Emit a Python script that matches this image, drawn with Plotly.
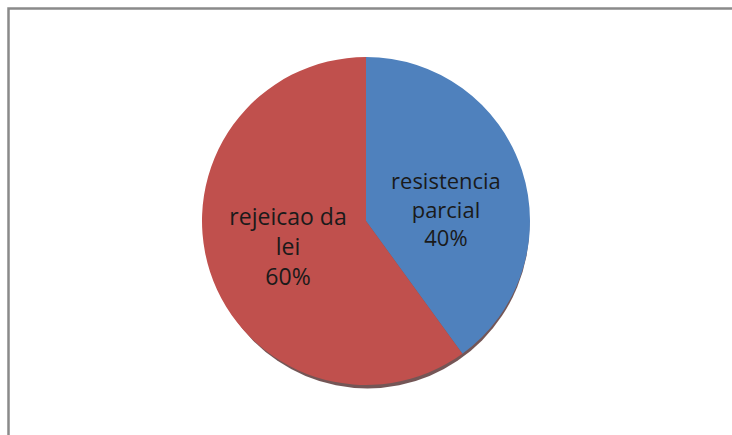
import plotly.graph_objects as go

labels = ["resistencia parcial", "rejeicao da lei"]
label_text = ["resistencia<br>parcial", "rejeicao da<br>lei"]
values = [40, 60]
colors = ["#4F81BD", "#C0504D"]

W, H = 732, 435
cx, cy_top, r = 366.5, 221, 164

fig = go.Figure()
fig.add_trace(go.Pie(
    labels=labels,
    values=values,
    text=label_text,
    texttemplate=[" <br>%{text}<br>%{percent:.0%}", "%{text}<br>%{percent:.0%}"],
    textinfo="text+percent",
    textposition="inside",
    insidetextorientation="horizontal",
    sort=False,
    direction="clockwise",
    rotation=0,
    marker=dict(colors=colors, line=dict(width=0)),
    textfont=dict(family="Open Sans", size=23, color="#1a1a1a"),
    showlegend=False,
    hoverinfo="label+percent",
    domain=dict(x=[0, 1], y=[(H - cy_top - r) / H, (H - cy_top + r) / H]),
))

# shadow rim
fig.add_shape(type="circle", xref="paper", yref="paper", layer="below",
              x0=(cx - r + 3) / W, x1=(cx + r - 1) / W,
              y0=(H - cy_top - r - 3.5) / H, y1=(H - cy_top + r - 3.5) / H,
              fillcolor="rgba(70,30,30,0.75)", line=dict(width=0))
# frame (top and left edges visible)
fig.add_shape(type="rect", xref="paper", yref="paper",
              x0=8.5 / W, x1=1.3, y0=-0.3, y1=1 - 8.5 / H,
              line=dict(color="#8a8a8a", width=2.5), fillcolor="rgba(0,0,0,0)")

fig.update_layout(
    width=W, height=H,
    margin=dict(l=0, r=0, t=0, b=0),
    paper_bgcolor="white", plot_bgcolor="white",
)
fig.write_html("out.html", config={"displayModeBar": False},
               post_script="document.body.style.margin='0';document.body.style.overflow='hidden';")
